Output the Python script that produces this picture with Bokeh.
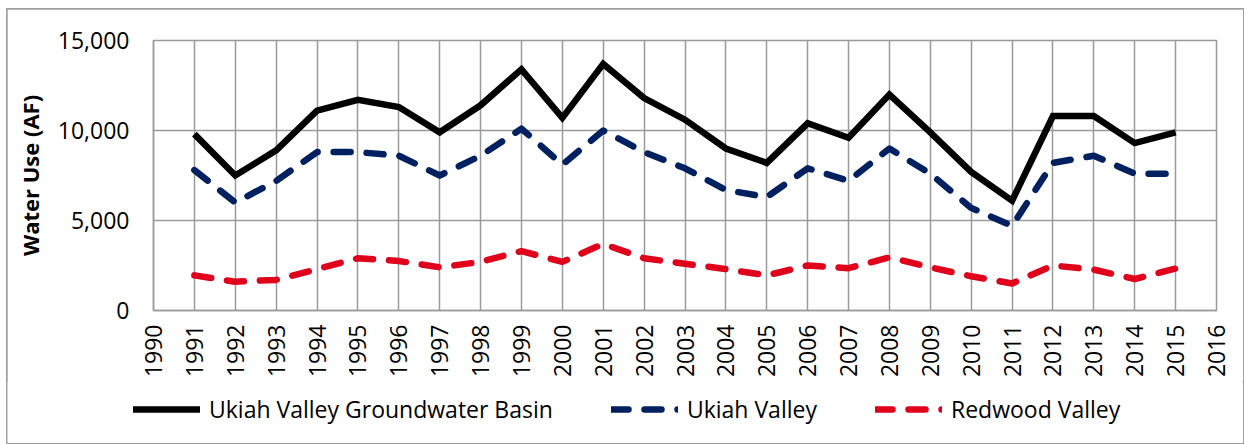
from bokeh.plotting import figure
from bokeh.layouts import column
from bokeh.models import Legend, LegendItem, NumeralTickFormatter, FixedTicker, Range1d
from bokeh.embed import file_html
from bokeh.resources import INLINE
import math

years = list(range(1991, 2016))
basin = [9800, 7500, 8900, 11100, 11700, 11300, 9900, 11400, 13400, 10700, 13700, 11800,
         10600, 9000, 8200, 10400, 9600, 12000, 9900, 7700, 6100, 10800, 10800, 9300, 9900]
ukiah = [7800, 6000, 7200, 8800, 8800, 8600, 7500, 8600, 10100, 8100, 10000, 8800,
         7900, 6700, 6300, 7900, 7200, 9000, 7600, 5700, 4700, 8200, 8600, 7600, 7600]
redwood = [1950, 1600, 1700, 2300, 2900, 2750, 2400, 2700, 3300, 2700, 3700, 2900,
           2600, 2300, 1950, 2500, 2350, 2950, 2400, 1900, 1500, 2500, 2270, 1750, 2330]
x_ticks = list(range(1990, 2017))
y_ticks = [0, 5000, 10000, 15000]
labels = ["Ukiah Valley Groundwater Basin", "Ukiah Valley", "Redwood Valley"]
colors = ["#000000", "#002060", "#E0001B"]
dashes = ["solid", "17 16", "17 16"]

FONT = "Open Sans"
GRID = "#9A9A9A"

p = figure(width=1236, height=372, output_backend="svg", toolbar_location=None,
           x_range=Range1d(1990, 2016), y_range=Range1d(0, 15000),
           min_border_left=146, min_border_right=27, min_border_top=31, min_border_bottom=71)

p.outline_line_color = GRID
p.outline_line_width = 1.5

p.xaxis.ticker = FixedTicker(ticks=x_ticks)
p.yaxis.ticker = FixedTicker(ticks=y_ticks)
p.yaxis.formatter = NumeralTickFormatter(format="0,0")
p.xgrid.ticker = FixedTicker(ticks=x_ticks)
p.ygrid.ticker = FixedTicker(ticks=y_ticks)
for g in (p.xgrid, p.ygrid):
    g.grid_line_color = GRID
    g.grid_line_width = 1.5

for ax in (p.xaxis, p.yaxis):
    ax.axis_line_color = GRID
    ax.axis_line_width = 1.5
    ax.major_tick_out = 0
    ax.major_tick_in = 0
    ax.minor_tick_out = 0
    ax.minor_tick_in = 0
    ax.major_label_text_font = FONT
    ax.major_label_text_font_size = "23px"
    ax.major_label_text_color = "#000000"

p.xaxis.major_label_orientation = math.pi / 2
p.xaxis.major_label_standoff = 14
p.yaxis.major_label_standoff = 24
p.yaxis.axis_label = "Water Use (AF)"
p.yaxis.axis_label_text_font = FONT
p.yaxis.axis_label_text_font_size = "22px"
p.yaxis.axis_label_text_font_style = "bold"
p.yaxis.axis_label_text_color = "#000000"
p.yaxis.axis_label_standoff = 10

series = [basin, ukiah, redwood]
for vals, c, d in zip(series, colors, dashes):
    if d == "solid":
        p.line(years, vals, line_color=c, line_width=6.5, line_join="miter")
    else:
        p.line(years, vals, line_color=c, line_width=6.5, line_dash=d,
               line_cap="round", line_join="round")

# legend strip below the chart
lg = figure(width=1236, height=62, output_backend="svg", toolbar_location=None,
            x_range=Range1d(0, 1), y_range=Range1d(0, 1),
            x_axis_type=None, y_axis_type=None,
            min_border_left=0, min_border_right=0, min_border_top=0, min_border_bottom=0)
lg.outline_line_color = None
lg.xgrid.visible = False
lg.ygrid.visible = False
legend_x = 0
if "frame_align" in lg.properties():
    lg.frame_align = False
    legend_x = 126

nan = float("nan")
items = []
for lab, c, d in zip(labels, colors, dashes):
    if d == "solid":
        r = lg.line([nan], [nan], line_color=c, line_width=6.5, line_cap="round")
    else:
        r = lg.line([nan], [nan], line_color=c, line_width=6.5, line_dash=d, line_cap="round")
    items.append(LegendItem(label=lab, renderers=[r]))

legend = Legend(items=items, orientation="horizontal", location=(legend_x, 18),
                glyph_width=67, glyph_height=30, label_standoff=9, spacing=58,
                padding=0, margin=0, border_line_color=None, background_fill_alpha=0,
                label_text_font=FONT, label_text_font_size="23px", label_text_color="#000000")
lg.add_layout(legend, "center")

layout = column(p, lg, spacing=0)
layout.styles = {"outline": "2px solid #A0A0A0", "outline-offset": "-1px",
                 "margin-left": "7px", "margin-top": "9px"}

open("out.html", "w").write(file_html(layout, INLINE))
